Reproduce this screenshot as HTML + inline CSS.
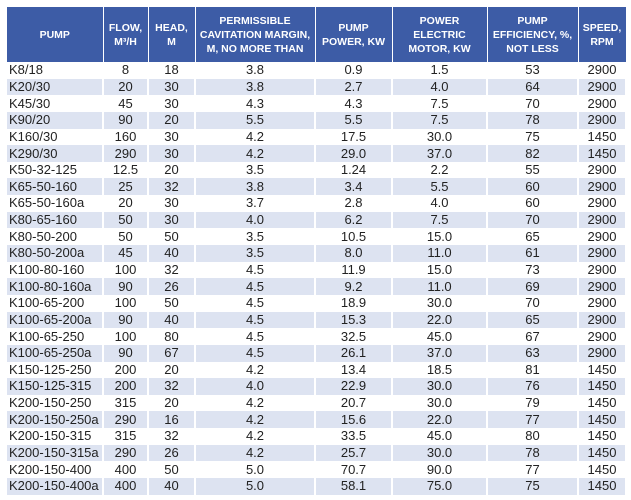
<!DOCTYPE html>
<html><head><style>
body{margin:0;width:631px;height:500px;background:#fff;overflow:hidden;font-family:"Liberation Sans",sans-serif;}
table{position:absolute;left:7px;top:7px;border-collapse:collapse;table-layout:fixed;width:619px;}
th{background:#3d5ca6;color:#fff;font-size:10.5px;font-weight:bold;height:55px;padding:0;line-height:14px;text-align:center;border-right:1px solid #fff;}
td{height:16.65px;padding:0;font-size:13px;color:#222;text-align:center;border-right:2px solid #fff;line-height:16px;background:#fff;}
td:first-child{text-align:left;padding-left:2px;}
tbody tr:nth-child(even) td{background:#dde3f1;}
</style></head><body>
<table>
<colgroup><col style="width:96px"><col style="width:45px"><col style="width:47px"><col style="width:120px"><col style="width:77px"><col style="width:95px"><col style="width:91px"><col style="width:48px"></colgroup>
<thead><tr><th>PUMP</th><th>FLOW,<br>M³/H</th><th>HEAD,<br>M</th><th>PERMISSIBLE<br>CAVITATION MARGIN,<br>M, NO MORE THAN</th><th>PUMP<br>POWER, KW</th><th>POWER<br>ELECTRIC<br>MOTOR, KW</th><th>PUMP<br>EFFICIENCY, %,<br>NOT LESS</th><th>SPEED,<br>RPM</th></tr></thead>
<tbody>
<tr><td>K8/18</td><td>8</td><td>18</td><td>3.8</td><td>0.9</td><td>1.5</td><td>53</td><td>2900</td></tr>
<tr><td>K20/30</td><td>20</td><td>30</td><td>3.8</td><td>2.7</td><td>4.0</td><td>64</td><td>2900</td></tr>
<tr><td>K45/30</td><td>45</td><td>30</td><td>4.3</td><td>4.3</td><td>7.5</td><td>70</td><td>2900</td></tr>
<tr><td>K90/20</td><td>90</td><td>20</td><td>5.5</td><td>5.5</td><td>7.5</td><td>78</td><td>2900</td></tr>
<tr><td>K160/30</td><td>160</td><td>30</td><td>4.2</td><td>17.5</td><td>30.0</td><td>75</td><td>1450</td></tr>
<tr><td>K290/30</td><td>290</td><td>30</td><td>4.2</td><td>29.0</td><td>37.0</td><td>82</td><td>1450</td></tr>
<tr><td>K50-32-125</td><td>12.5</td><td>20</td><td>3.5</td><td>1.24</td><td>2.2</td><td>55</td><td>2900</td></tr>
<tr><td>K65-50-160</td><td>25</td><td>32</td><td>3.8</td><td>3.4</td><td>5.5</td><td>60</td><td>2900</td></tr>
<tr><td>K65-50-160a</td><td>20</td><td>30</td><td>3.7</td><td>2.8</td><td>4.0</td><td>60</td><td>2900</td></tr>
<tr><td>K80-65-160</td><td>50</td><td>30</td><td>4.0</td><td>6.2</td><td>7.5</td><td>70</td><td>2900</td></tr>
<tr><td>K80-50-200</td><td>50</td><td>50</td><td>3.5</td><td>10.5</td><td>15.0</td><td>65</td><td>2900</td></tr>
<tr><td>K80-50-200a</td><td>45</td><td>40</td><td>3.5</td><td>8.0</td><td>11.0</td><td>61</td><td>2900</td></tr>
<tr><td>K100-80-160</td><td>100</td><td>32</td><td>4.5</td><td>11.9</td><td>15.0</td><td>73</td><td>2900</td></tr>
<tr><td>K100-80-160a</td><td>90</td><td>26</td><td>4.5</td><td>9.2</td><td>11.0</td><td>69</td><td>2900</td></tr>
<tr><td>K100-65-200</td><td>100</td><td>50</td><td>4.5</td><td>18.9</td><td>30.0</td><td>70</td><td>2900</td></tr>
<tr><td>K100-65-200a</td><td>90</td><td>40</td><td>4.5</td><td>15.3</td><td>22.0</td><td>65</td><td>2900</td></tr>
<tr><td>K100-65-250</td><td>100</td><td>80</td><td>4.5</td><td>32.5</td><td>45.0</td><td>67</td><td>2900</td></tr>
<tr><td>K100-65-250a</td><td>90</td><td>67</td><td>4.5</td><td>26.1</td><td>37.0</td><td>63</td><td>2900</td></tr>
<tr><td>K150-125-250</td><td>200</td><td>20</td><td>4.2</td><td>13.4</td><td>18.5</td><td>81</td><td>1450</td></tr>
<tr><td>K150-125-315</td><td>200</td><td>32</td><td>4.0</td><td>22.9</td><td>30.0</td><td>76</td><td>1450</td></tr>
<tr><td>K200-150-250</td><td>315</td><td>20</td><td>4.2</td><td>20.7</td><td>30.0</td><td>79</td><td>1450</td></tr>
<tr><td>K200-150-250a</td><td>290</td><td>16</td><td>4.2</td><td>15.6</td><td>22.0</td><td>77</td><td>1450</td></tr>
<tr><td>K200-150-315</td><td>315</td><td>32</td><td>4.2</td><td>33.5</td><td>45.0</td><td>80</td><td>1450</td></tr>
<tr><td>K200-150-315a</td><td>290</td><td>26</td><td>4.2</td><td>25.7</td><td>30.0</td><td>78</td><td>1450</td></tr>
<tr><td>K200-150-400</td><td>400</td><td>50</td><td>5.0</td><td>70.7</td><td>90.0</td><td>77</td><td>1450</td></tr>
<tr><td>K200-150-400a</td><td>400</td><td>40</td><td>5.0</td><td>58.1</td><td>75.0</td><td>75</td><td>1450</td></tr>
</tbody></table>
</body></html>
